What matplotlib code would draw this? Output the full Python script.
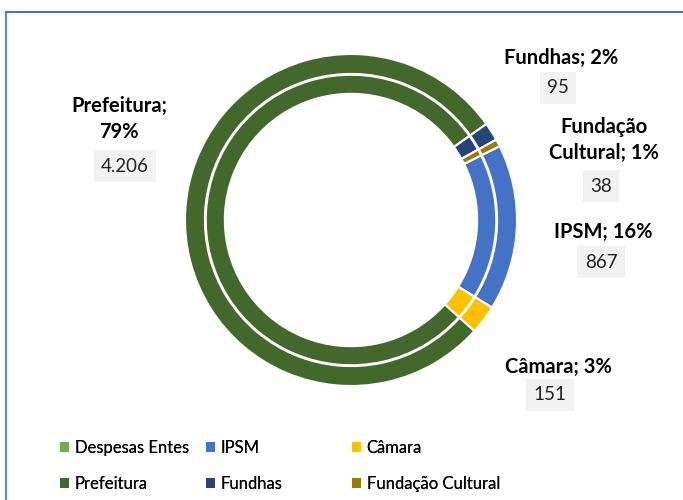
import matplotlib.pyplot as plt
from matplotlib.patches import Patch

# dados
categorias = ["IPSM", "Câmara", "Prefeitura", "Fundhas", "Fundação Cultural"]
valores = [867, 151, 4206, 95, 38]
cores = ["#4472C4", "#FFC000", "#43682B", "#264478", "#9E7A00"]

legenda_nomes = ["Despesas Entes", "IPSM", "Câmara", "Prefeitura", "Fundhas", "Fundação Cultural"]
legenda_cores = ["#70AD47", "#4472C4", "#FFC000", "#43682B", "#264478", "#9E7A00"]

# posicao dos rotulos (pixels da figura): x texto, y texto, x valor, y valor
rotulos_pos = {
    "IPSM": (603, 232, 601, 262),
    "Câmara": (558, 367, 550, 395),
    "Prefeitura": (119, 119, 125, 166),
    "Fundhas": (561, 58, 558, 88),
    "Fundação Cultural": (604, 140, 601, 186),
}
rotulos_txt = {
    "Prefeitura": "Prefeitura;\n{}%",
    "Fundação Cultural": "Fundação\nCultural; {}%",
}

plt.rcParams['font.family'] = ['Lato', 'DejaVu Sans']

W, H = 683, 500
fig = plt.figure(figsize=(W / 100, H / 100), dpi=100)

# moldura (cortada)
fig.add_artist(plt.Line2D([6 / W, 6 / W], [0, 1 - 12 / H], color="#5B84D6", lw=1.5))
fig.add_artist(plt.Line2D([6 / W, 1], [1 - 12 / H, 1 - 12 / H], color="#4472C4", lw=1.5))

cx, cy, r = 351, 220, 166
ax = fig.add_axes([(cx - r) / W, (H - cy - r) / H, 2 * r / W, 2 * r / H])

start = 26.4
ax.pie(valores, colors=cores, radius=1.0, startangle=start, counterclock=False,
       wedgeprops=dict(width=0.12, edgecolor="white", linewidth=1.5))
ax.pie(valores, colors=cores, radius=0.875, startangle=start, counterclock=False,
       wedgeprops=dict(width=0.115, edgecolor="white", linewidth=1.5))
ax.set_xlim(-1, 1)
ax.set_ylim(-1, 1)
ax.set_aspect("equal")
ax.axis("off")

total = sum(valores)
for nome, v in zip(categorias, valores):
    x, y1, xv, y2 = rotulos_pos[nome]
    pct = round(100 * v / total)
    txt = rotulos_txt.get(nome, nome + "; {}%").format(pct)
    fig.text(x / W, 1 - y1 / H, txt, ha="center", va="center", fontsize=14.5,
             fontweight="bold", linespacing=1.35, color="black")
    val = f"{v:,}".replace(",", ".")
    fig.text(xv / W, 1 - y2 / H, val, ha="center", va="center", fontsize=13.5,
             color="#222222",
             bbox=dict(boxstyle="square,pad=0.4", facecolor="#F2F2F2", edgecolor="none"))

# legenda em 3 colunas
colunas_x = [53, 199, 345]
for i, x in enumerate(colunas_x):
    handles = [Patch(facecolor=legenda_cores[i], label=legenda_nomes[i]),
               Patch(facecolor=legenda_cores[i + 3], label=legenda_nomes[i + 3])]
    leg = fig.legend(handles=handles, loc="upper left",
                     bbox_to_anchor=(x / W, 1 - 433 / H), frameon=False,
                     fontsize=12, handlelength=0.55, handleheight=0.55,
                     handletextpad=0.35, labelspacing=1.2, borderaxespad=0)
    fig.add_artist(leg)

fig.savefig("out.png", dpi=100)
